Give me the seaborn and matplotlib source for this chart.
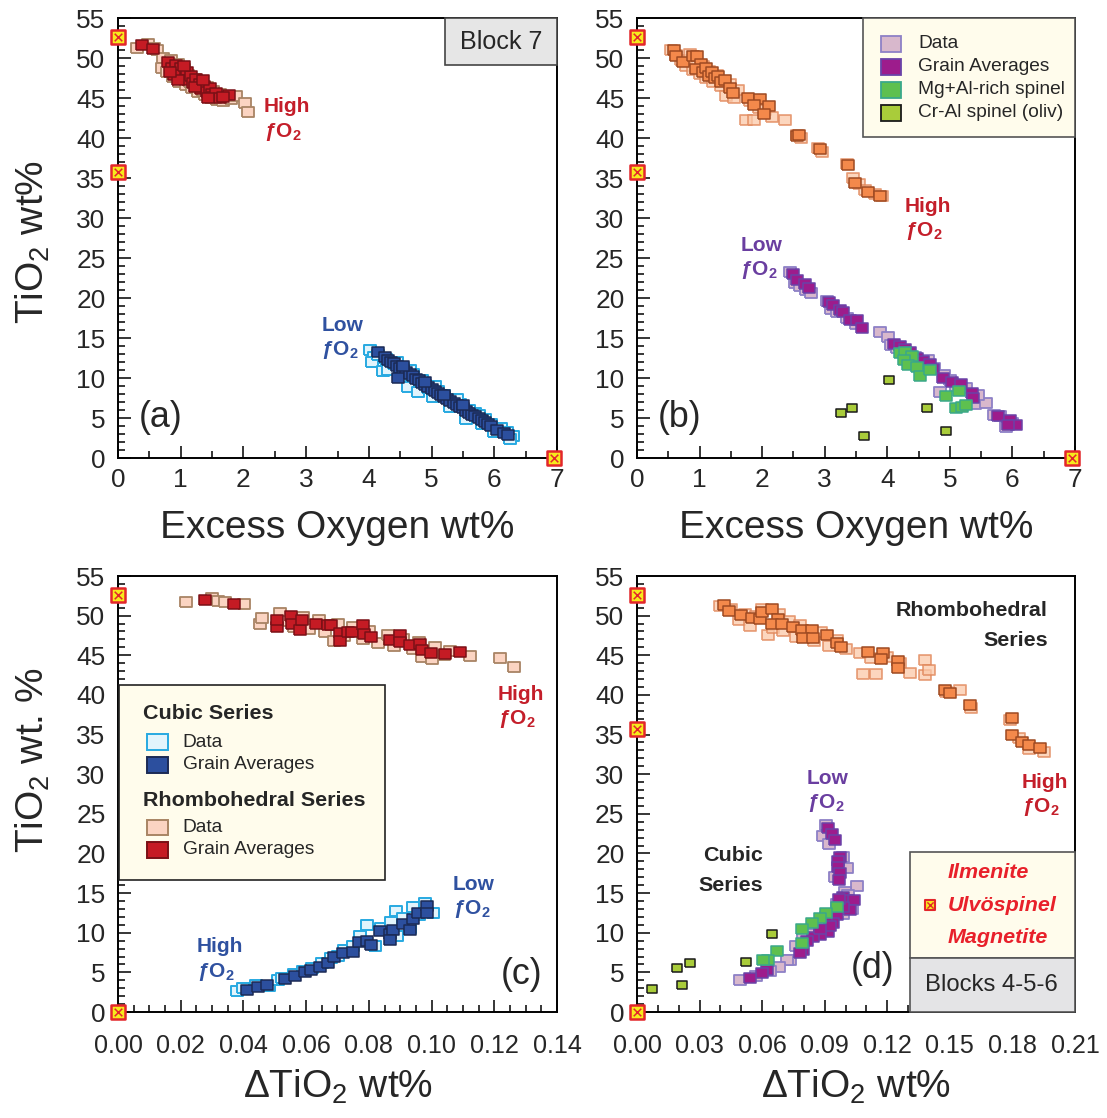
import matplotlib
matplotlib.use("Agg")
import matplotlib.pyplot as plt
import seaborn as sns
import pandas as pd
from matplotlib import font_manager
from matplotlib.patches import Rectangle
from matplotlib.ticker import MultipleLocator, FormatStrFormatter

# ---------------- data ----------------
# (a) Block 7, TiO2 vs excess oxygen
A_RHOMB_DATA = [(0.30, 51.3), (0.48, 51.7), (0.58, 51.3), (0.62, 51.0), (0.72, 50.0), (0.70, 48.8),
                (0.78, 48.3), (0.85, 49.7), (0.88, 47.6), (0.95, 49.2), (0.98, 47.0), (1.05, 48.6),
                (1.08, 46.6), (1.12, 47.9), (1.18, 46.2), (1.22, 47.4), (1.28, 45.8), (1.33, 46.9),
                (1.38, 45.4), (1.42, 46.4), (1.48, 45.0), (1.52, 45.9), (1.58, 44.7), (1.62, 45.5),
                (1.68, 44.6), (1.72, 45.1), (1.80, 44.9), (1.88, 45.2), (2.03, 44.4), (2.08, 43.3),
                (0.92, 48.4), (1.15, 47.0), (1.35, 45.9), (1.55, 45.0), (1.00, 48.0)]
A_RHOMB_AVG = [(0.39, 51.6), (0.56, 51.1), (0.80, 49.5), (0.86, 48.7), (0.92, 49.1), (0.95, 48.2),
               (1.00, 48.7), (1.04, 47.8), (1.10, 48.3), (1.12, 47.3), (1.16, 47.7), (1.20, 46.9),
               (1.25, 47.4), (1.30, 46.7), (1.32, 46.1), (1.37, 46.5), (1.42, 45.8), (1.46, 46.3),
               (1.50, 45.5), (1.52, 45.1), (1.57, 45.6), (1.62, 45.0), (0.90, 47.9), (0.96, 47.3),
               (1.06, 49.0), (1.22, 46.4), (1.77, 45.4), (1.68, 45.1), (1.44, 45.0), (1.36, 47.2),
               (0.83, 48.2)]
A_CUBIC_DATA = [(4.02, 13.5), (4.08, 12.6), (4.05, 12.0), (4.15, 12.9), (4.22, 10.9), (4.30, 11.0),
                (4.28, 12.4), (4.40, 11.8), (4.50, 10.1), (4.55, 11.2), (4.62, 8.9), (4.70, 10.5),
                (4.78, 8.3), (4.85, 9.8), (4.95, 8.8), (5.02, 7.6), (5.10, 8.4), (5.20, 7.9),
                (5.30, 6.4), (5.35, 7.2), (5.45, 6.8), (5.55, 4.9), (5.60, 6.0), (5.70, 5.6),
                (5.80, 4.2), (5.85, 4.9), (5.95, 4.3), (6.00, 3.3), (6.10, 3.8), (6.20, 3.3),
                (6.30, 2.7), (6.25, 2.4), (4.45, 12.0), (4.65, 11.0), (5.05, 9.0), (5.40, 7.4),
                (5.75, 5.4)]
A_CUBIC_AVG = [(4.15, 13.2), (4.25, 12.6), (4.30, 12.3), (4.35, 12.0), (4.40, 11.9), (4.45, 11.5),
               (4.50, 11.3), (4.55, 11.0), (4.60, 10.8), (4.47, 10.0), (4.65, 10.5), (4.70, 10.3),
               (4.75, 9.9), (4.80, 9.7), (4.85, 9.4), (4.90, 9.1), (4.95, 8.9), (5.00, 8.6),
               (5.05, 8.4), (5.10, 8.1), (5.15, 7.9), (5.20, 7.6), (5.25, 7.4), (5.30, 7.1),
               (5.35, 6.9), (5.40, 6.6), (5.45, 6.4), (5.50, 6.2), (5.55, 5.9), (5.60, 5.6),
               (5.65, 5.4), (5.70, 5.2), (5.75, 5.0), (5.80, 4.7), (5.85, 4.5), (5.90, 4.2),
               (5.95, 4.0), (6.05, 3.5), (6.15, 3.1), (6.22, 2.9), (4.55, 11.5), (4.90, 9.5),
               (5.20, 7.9), (5.50, 6.6)]

# (b) Blocks 4-5-6, TiO2 vs excess oxygen
B_RHOMB_DATA = [(0.55, 51.0), (0.62, 50.4), (0.70, 49.8), (0.78, 49.0), (0.85, 50.5), (0.90, 48.5),
                (0.95, 49.6), (1.00, 48.0), (1.05, 49.0), (1.10, 47.5), (1.15, 48.4), (1.22, 47.0),
                (1.28, 47.9), (1.35, 46.5), (1.42, 45.3), (1.48, 46.8), (1.55, 45.0), (1.62, 46.0),
                (1.75, 42.3), (1.87, 42.3), (1.80, 44.6), (1.95, 43.7), (2.05, 43.5), (2.16, 42.6),
                (2.37, 42.2), (2.55, 40.4), (2.62, 40.0), (2.95, 38.3), (2.90, 38.8), (3.35, 36.8),
                (3.45, 35.0), (3.55, 34.2), (3.65, 33.5), (3.80, 33.0), (3.92, 32.8)]
B_RHOMB_AVG = [(0.59, 51.0), (0.63, 50.2), (0.73, 49.5), (0.90, 50.2), (0.96, 50.3), (1.02, 49.3),
               (0.95, 48.6), (1.05, 48.2), (1.10, 48.8), (1.15, 47.8), (1.20, 48.3), (1.25, 47.5),
               (1.30, 47.8), (1.35, 47.0), (1.41, 47.2), (1.49, 46.2), (1.54, 45.6), (1.78, 45.0),
               (1.96, 44.9), (1.87, 44.1), (2.11, 44.0), (2.03, 43.0), (2.55, 40.2), (2.59, 40.4),
               (2.92, 38.6), (3.37, 36.6), (3.48, 34.4), (3.69, 33.2), (3.88, 32.8)]
B_CUBIC_DATA = [(2.45, 23.3), (2.52, 21.9), (2.60, 21.5), (2.70, 21.0), (2.78, 20.6), (3.04, 19.6),
                (3.10, 18.6), (3.20, 18.2), (3.35, 17.5), (3.50, 16.8), (3.88, 15.8), (4.01, 15.1),
                (4.06, 14.1), (4.15, 13.8), (4.30, 13.0), (4.45, 12.6), (4.55, 11.6), (4.65, 12.3),
                (4.75, 11.3), (4.84, 8.3), (4.90, 10.4), (5.00, 9.8), (5.10, 9.0), (5.25, 8.8),
                (5.40, 6.8), (5.58, 6.9), (5.45, 7.9), (5.70, 5.4), (5.80, 5.2), (5.90, 3.9),
                (6.00, 4.4)]
B_CUBIC_AVG = [(2.50, 23.0), (2.55, 22.3), (2.68, 21.7), (2.75, 21.2), (3.07, 19.5), (3.13, 19.1),
               (3.24, 18.5), (3.30, 18.2), (3.41, 17.3), (3.51, 17.2), (3.59, 16.3), (4.10, 14.3),
               (4.20, 14.0), (4.28, 13.6), (4.36, 13.2), (4.47, 12.5), (4.57, 12.1), (4.68, 11.8),
               (4.73, 11.1), (4.89, 10.0), (5.03, 9.5), (5.18, 9.3), (5.35, 8.1), (5.37, 7.5),
               (5.77, 5.3), (5.96, 4.8), (6.06, 4.1), (5.93, 4.1)]
B_MGAL = [(4.20, 13.1), (4.28, 13.3), (4.40, 12.8), (4.27, 12.3), (4.33, 11.6), (4.47, 11.4),
          (4.53, 10.3), (4.68, 11.0), (4.94, 7.7), (5.15, 8.4), (5.10, 6.3), (5.19, 6.4), (5.26, 6.6)]
B_CRAL = [(4.03, 9.8), (3.26, 5.6), (3.43, 6.2), (3.62, 2.8), (4.64, 6.3), (4.94, 3.4)]

# (c) Block 7, TiO2 vs delta TiO2
C_RHOMB_DATA = [(0.0217, 51.7), (0.0299, 52.2), (0.0320, 51.9), (0.0341, 51.7), (0.0402, 51.5),
                (0.0453, 49.0), (0.0460, 49.7), (0.0517, 50.3), (0.0540, 49.3), (0.0560, 48.6),
                (0.0590, 49.8), (0.0610, 48.3), (0.0640, 49.4), (0.0660, 47.9), (0.0700, 48.9),
                (0.0720, 47.4), (0.0750, 48.6), (0.0780, 47.0), (0.0800, 48.0), (0.0830, 46.6),
                (0.0860, 47.6), (0.0880, 46.2), (0.0910, 47.1), (0.0940, 45.8), (0.0960, 46.7),
                (0.0990, 45.3), (0.1010, 46.1), (0.1040, 45.0), (0.1060, 45.6), (0.1122, 44.9),
                (0.1218, 44.7), (0.1264, 43.5), (0.0970, 44.8), (0.1000, 44.5), (0.0690, 46.8)]
C_RHOMB_AVG = [(0.0277, 52.0), (0.0371, 51.5), (0.0506, 48.6), (0.0508, 49.4), (0.0552, 49.9),
               (0.0556, 49.0), (0.0580, 48.2), (0.0586, 49.5), (0.0630, 48.9), (0.0671, 48.8),
               (0.0679, 48.8), (0.0708, 47.8), (0.0708, 46.8), (0.0734, 47.9), (0.0746, 47.9),
               (0.0782, 48.8), (0.0783, 47.7), (0.0807, 47.3), (0.0867, 46.9), (0.0899, 47.6),
               (0.0899, 46.7), (0.0931, 46.3), (0.0963, 46.4), (0.0968, 45.7), (0.0999, 45.3),
               (0.1043, 45.1), (0.1091, 45.4)]
C_CUBIC_DATA = [(0.0380, 2.6), (0.0400, 3.0), (0.0440, 3.4), (0.0480, 3.3), (0.0510, 4.0),
                (0.0524, 4.3), (0.0560, 4.8), (0.0590, 5.2), (0.0620, 5.6), (0.0650, 6.2),
                (0.0680, 6.8), (0.0700, 7.1), (0.0720, 7.8), (0.0750, 8.3), (0.0772, 9.6),
                (0.0793, 11.0), (0.0818, 8.3), (0.0840, 10.6), (0.0870, 11.4), (0.0888, 12.8),
                (0.0910, 11.9), (0.0941, 13.3), (0.0960, 12.2), (0.0979, 13.7), (0.1003, 12.5),
                (0.0930, 10.6), (0.0890, 9.6)]
C_CUBIC_AVG = [(0.0410, 2.8), (0.0447, 3.1), (0.0474, 3.4), (0.0533, 4.2), (0.0564, 4.5),
               (0.0596, 5.0), (0.0617, 5.3), (0.0644, 5.7), (0.0671, 6.2), (0.0689, 6.9),
               (0.0718, 7.4), (0.0750, 7.6), (0.0768, 8.8), (0.0793, 8.9), (0.0806, 8.5),
               (0.0835, 10.2), (0.0867, 9.8), (0.0878, 10.3), (0.0910, 11.1), (0.0931, 10.4),
               (0.0941, 11.7), (0.0958, 12.5), (0.0984, 13.4), (0.0986, 12.5), (0.0868, 9.1)]

# (d) Blocks 4-5-6, TiO2 vs delta TiO2
D_RHOMB_DATA = [(0.0398, 51.2), (0.0450, 50.8), (0.0487, 49.4), (0.0520, 50.2), (0.0543, 48.7),
                (0.0570, 49.9), (0.0600, 50.9), (0.0629, 47.5), (0.0650, 48.5), (0.0680, 50.2),
                (0.0700, 48.0), (0.0730, 49.3), (0.0760, 47.3), (0.0780, 48.8), (0.0810, 47.8),
                (0.0850, 46.8), (0.0880, 47.9), (0.0920, 46.2), (0.0960, 46.9), (0.1000, 45.8),
                (0.1070, 45.3), (0.1084, 42.6), (0.1148, 42.6), (0.1120, 44.6), (0.1200, 44.8),
                (0.1260, 44.0), (0.1308, 42.8), (0.1380, 42.5), (0.1380, 44.4), (0.1400, 43.1),
                (0.1480, 40.4), (0.1550, 40.6), (0.1600, 38.3), (0.1790, 36.8), (0.1830, 34.6),
                (0.1880, 33.2), (0.1950, 32.8)]
D_RHOMB_AVG = [(0.0417, 51.4), (0.0441, 50.6), (0.0497, 50.1), (0.0550, 49.7), (0.0589, 49.6),
               (0.0597, 50.5), (0.0645, 50.8), (0.0677, 49.6), (0.0649, 49.0), (0.0693, 49.0),
               (0.0749, 48.6), (0.0789, 48.2), (0.0837, 48.2), (0.0797, 47.2), (0.0845, 47.2),
               (0.0909, 47.6), (0.0957, 46.6), (0.0976, 46.0), (0.1107, 45.4), (0.1180, 45.3),
               (0.1170, 44.5), (0.1252, 44.3), (0.1252, 43.4), (0.1476, 40.6), (0.1500, 40.2),
               (0.1596, 38.7), (0.1797, 37.1), (0.1800, 35.0), (0.1845, 34.0), (0.1880, 33.7),
               (0.1931, 33.3)]
D_CUBIC_DATA = [(0.0906, 23.6), (0.0893, 22.2), (0.0920, 21.2), (0.0989, 19.5), (0.1005, 18.2),
                (0.0950, 17.0), (0.1053, 15.9), (0.0997, 15.2), (0.1030, 13.0), (0.0990, 12.4),
                (0.0930, 11.4), (0.0880, 10.2), (0.0840, 9.9), (0.0797, 9.5), (0.0760, 8.3),
                (0.0733, 6.6), (0.0717, 6.6), (0.0680, 5.7), (0.0640, 5.2), (0.0570, 4.5),
                (0.0494, 4.0), (0.1010, 14.8), (0.0960, 13.6)]
D_CUBIC_AVG = [(0.0917, 23.2), (0.0933, 22.5), (0.0949, 21.7), (0.0973, 19.6), (0.0965, 19.0),
               (0.0965, 18.3), (0.0973, 17.5), (0.0968, 16.6), (0.0988, 14.5), (0.1013, 14.1),
               (0.1040, 14.1), (0.1020, 12.9), (0.0988, 13.3), (0.0957, 12.2), (0.0940, 11.2),
               (0.0917, 10.1), (0.0877, 9.7), (0.0845, 9.5), (0.0813, 8.9), (0.0797, 7.8),
               (0.0781, 7.5), (0.0621, 5.3), (0.0597, 4.9), (0.0541, 4.3), (0.0908, 12.0),
               (0.0926, 10.9), (0.0877, 10.5), (0.0970, 14.2)]
D_MGAL = [(0.0957, 13.3), (0.0906, 12.5), (0.0877, 11.8), (0.0837, 11.2), (0.0789, 10.5),
          (0.0789, 8.7), (0.0669, 7.7), (0.0629, 6.6), (0.0605, 6.5)]
D_CRAL = [(0.0645, 9.8), (0.0525, 6.3), (0.0190, 5.6), (0.0254, 6.2), (0.0072, 2.9), (0.0215, 3.4)]

# end-member compositions (ilmenite, ulvospinel, magnetite)
END_EXO = [(0.0, 52.65), (0.0, 35.7), (6.95, 0.0)]
END_DTIO2_C = [(0.0, 52.65), (0.0, 0.0)]
END_DTIO2_D = [(0.0, 52.65), (0.0, 35.7), (0.0, 0.0)]

LEGEND_B = ["Data", "Grain Averages", "Mg+Al-rich spinel", "Cr-Al spinel (oliv)"]
LEGEND_C = ["Cubic Series", "Data", "Grain Averages", "Rhombohedral Series", "Data", "Grain Averages"]
END_NAMES = ["Ilmenite", "Ulvöspinel", "Magnetite"]

# ---------------- colours ----------------
RH_PALE = ("#fbd4c2", "#a88464")
RH_AVG = ("#c51b24", "#7a1016")
CU_PALE = ("#e2f4fc", "#27a9e1")
CU_AVG = ("#2c4f9e", "#1b2a55")
OR_PALE = ("#fbc9a9", "#e08659")
OR_AVG = ("#f4894b", "#9e4a22")
MV_PALE = ("#d8b8cc", "#8d80c6")
PU_AVG = ("#9d1c8c", "#6a43a8")
GREEN = ("#5ec04f", "#3aa88a")
OLIVE = ("#a9cc3a", "#1a1a1a")
RED_T, BLUE_T, PURP_T = "#c41e2a", "#2f51a0", "#6a3ea0"
CREAM = "#fffcec"

sns.set_style("ticks")
plt.rcParams["font.family"] = ["Liberation Sans", "DejaVu Sans"]
plt.rcParams["mathtext.fontset"] = "custom"
plt.rcParams["mathtext.rm"] = "Liberation Sans"
plt.rcParams["mathtext.it"] = "Liberation Sans:italic"
plt.rcParams["mathtext.bf"] = "Liberation Sans:bold"

# the original uses a condensed face; fall back to smaller regular text if none is installed
installed = {f.name for f in font_manager.fontManager.ttflist}
NARROW = ["Liberation Sans"]
NS = 0.86
for cand in ["Liberation Sans Narrow", "DejaVu Sans Condensed"]:
    if cand in installed:
        NARROW = [cand, "Liberation Sans"]
        NS = 1.0
        break

RECT = [(-1, -0.78), (1, -0.78), (1, 0.78), (-1, 0.78), (-1, -0.78)]


def squares(ax, pts, colors, s=75, lw=1.1, alpha=1.0, z=3):
    df = pd.DataFrame(pts, columns=["x", "y"])
    sns.scatterplot(data=df, x="x", y="y", ax=ax, marker=RECT, s=s, color=colors[0],
                    edgecolor=colors[1], linewidth=lw, alpha=alpha, zorder=z, legend=False)


def endmembers(ax, pts):
    df = pd.DataFrame(pts, columns=["x", "y"])
    sns.scatterplot(data=df, x="x", y="y", ax=ax, marker="s", s=95, color="#f7ea1c",
                    edgecolor="#e3262b", linewidth=1.8, zorder=10, clip_on=False, legend=False)
    sns.scatterplot(data=df, x="x", y="y", ax=ax, marker="x", s=30, color="#e3262b",
                    linewidth=1.1, zorder=11, clip_on=False, legend=False)


def setup(ax, xmax, xmaj, xmin, fmt, xpad, xsize):
    ax.set_xlim(0, xmax)
    ax.set_ylim(0, 55)
    ax.xaxis.set_major_locator(MultipleLocator(xmaj))
    ax.xaxis.set_minor_locator(MultipleLocator(xmin))
    ax.xaxis.set_major_formatter(FormatStrFormatter(fmt))
    ax.yaxis.set_major_locator(MultipleLocator(5))
    ax.yaxis.set_minor_locator(MultipleLocator(1))
    ax.tick_params(which="both", direction="in", top=False, right=False, width=1.3,
                   labelfontfamily=NARROW)
    ax.tick_params(axis="y", labelsize=22 * NS, pad=9)
    ax.tick_params(axis="x", labelsize=xsize * NS, pad=xpad)
    ax.tick_params(which="major", length=9)
    ax.tick_params(which="minor", length=5)
    for sp in ax.spines.values():
        sp.set_linewidth(1.4)
        sp.set_color("black")
    ax.set_xlabel("")
    ax.set_ylabel("")


def box(ax, x0, y0, x1, y1, face, edge="#555555", lw=1.2, z=6):
    ax.add_patch(Rectangle((x0, y0), x1 - x0, y1 - y0, transform=ax.transAxes,
                           facecolor=face, edgecolor=edge, linewidth=lw, zorder=z, clip_on=False))


def fo2(ax, x, y, word, color, dy=3.1):
    ax.text(x, y, word, color=color, fontsize=15, fontweight="bold", ha="left", va="center", zorder=8)
    ax.text(x, y - dy, r"ƒO$_\mathbf{2}$", color=color, fontsize=15, fontweight="bold",
            ha="left", va="center", zorder=8)


fig = plt.figure(figsize=(11.07, 11.18), dpi=100)
W, H = 1107, 1118


def axes_px(left, top, right, bottom):
    return fig.add_axes([left / W, 1 - bottom / H, (right - left) / W, (bottom - top) / H])


ax_a = axes_px(118, 18, 557, 458)
ax_b = axes_px(637, 18, 1075, 458)
ax_c = axes_px(118, 576, 557, 1012)
ax_d = axes_px(637, 576, 1075, 1012)

# ---- (a)
squares(ax_a, A_RHOMB_DATA, RH_PALE, s=80, lw=1.3)
squares(ax_a, A_RHOMB_AVG, RH_AVG, z=4)
squares(ax_a, A_CUBIC_DATA, CU_PALE, s=80, lw=1.4)
squares(ax_a, A_CUBIC_AVG, CU_AVG, z=4)
endmembers(ax_a, END_EXO)
setup(ax_a, 7, 1, 0.5, "%d", 7, 22)
ax_a.set_xlabel("Excess Oxygen wt%", fontsize=28)
ax_a.set_ylabel("TiO$_2$ wt%", fontsize=28)
ax_a.xaxis.set_label_coords(0.5, -0.118)
ax_a.yaxis.set_label_coords(-0.15, 0.492)
fo2(ax_a, 2.33, 43.9, "High", RED_T)
fo2(ax_a, 3.24, 16.6, "Low", BLUE_T)
box(ax_a, 0.745, 0.893, 1.0, 1.0, "#e6e6e6", edge="#444444")
ax_a.text(0.872, 0.946, "Block 7", transform=ax_a.transAxes, fontsize=21 * NS, family=NARROW,
          ha="center", va="center", zorder=7)
ax_a.text(0.096, 0.091, "(a)", transform=ax_a.transAxes, fontsize=30 * NS, family=NARROW,
          ha="center", va="center")

# ---- (b)
squares(ax_b, B_RHOMB_DATA, OR_PALE, s=80, lw=1.3, alpha=0.75)
squares(ax_b, B_RHOMB_AVG, OR_AVG, z=4)
squares(ax_b, B_CUBIC_DATA, MV_PALE, s=80, lw=1.3)
squares(ax_b, B_CUBIC_AVG, PU_AVG, z=4)
squares(ax_b, B_MGAL, GREEN, z=5)
squares(ax_b, B_CRAL, OLIVE, s=45, z=5)
endmembers(ax_b, END_EXO)
setup(ax_b, 7, 1, 0.5, "%d", 7, 22)
ax_b.set_xlabel("Excess Oxygen wt%", fontsize=28)
ax_b.xaxis.set_label_coords(0.5, -0.118)
fo2(ax_b, 4.28, 31.5, "High", RED_T)
fo2(ax_b, 1.65, 26.6, "Low", PURP_T)
box(ax_b, 0.515, 0.729, 1.0, 1.0, CREAM)
for i, (lab, col) in enumerate(zip(LEGEND_B, [MV_PALE, PU_AVG, GREEN, OLIVE])):
    y = 0.941 - i * 0.0523
    ax_b.add_patch(Rectangle((0.556, y - 0.018), 0.047, 0.036, transform=ax_b.transAxes,
                             facecolor=col[0], edgecolor=col[1], linewidth=1.3, zorder=7))
    ax_b.text(0.642, y, lab, transform=ax_b.transAxes, fontsize=16 * NS, family=NARROW,
              ha="left", va="center", zorder=7)
ax_b.text(0.098, 0.091, "(b)", transform=ax_b.transAxes, fontsize=30 * NS, family=NARROW,
          ha="center", va="center")

# ---- (c)
squares(ax_c, C_RHOMB_DATA, RH_PALE, s=80, lw=1.3)
squares(ax_c, C_RHOMB_AVG, RH_AVG, z=4)
squares(ax_c, C_CUBIC_DATA, CU_PALE, s=80, lw=1.4)
squares(ax_c, C_CUBIC_AVG, CU_AVG, z=4)
endmembers(ax_c, END_DTIO2_C)
setup(ax_c, 0.14, 0.02, 0.005, "%.2f", 16, 21)
ax_c.set_xlabel("ΔTiO$_2$ wt%", fontsize=28)
ax_c.set_ylabel("TiO$_2$ wt. %", fontsize=28)
ax_c.xaxis.set_label_coords(0.5, -0.128)
ax_c.yaxis.set_label_coords(-0.15, 0.578)
fo2(ax_c, 0.1212, 40.1, "High", RED_T)
fo2(ax_c, 0.1068, 16.1, "Low", BLUE_T)
fo2(ax_c, 0.0252, 8.2, "High", BLUE_T)
box(ax_c, 0.003, 0.303, 0.608, 0.75, CREAM, edge="#222222")
legend_c_y = [0.685, 0.619, 0.567, 0.486, 0.423, 0.372]
legend_c_col = [None, CU_PALE, CU_AVG, None, RH_PALE, RH_AVG]
for lab, y, col in zip(LEGEND_C, legend_c_y, legend_c_col):
    if col is None:
        ax_c.text(0.058, y, lab, transform=ax_c.transAxes, fontsize=18 * NS, family=NARROW,
                  fontweight="bold", ha="left", va="center", zorder=7)
    else:
        ax_c.add_patch(Rectangle((0.065, y - 0.018), 0.05, 0.036, transform=ax_c.transAxes,
                                 facecolor=col[0], edgecolor=col[1], linewidth=1.4, zorder=7))
        ax_c.text(0.147, y, lab, transform=ax_c.transAxes, fontsize=16 * NS, family=NARROW,
                  ha="left", va="center", zorder=7)
ax_c.text(0.92, 0.085, "(c)", transform=ax_c.transAxes, fontsize=30 * NS, family=NARROW,
          ha="center", va="center")

# ---- (d)
squares(ax_d, D_RHOMB_DATA, OR_PALE, s=80, lw=1.3, alpha=0.75)
squares(ax_d, D_RHOMB_AVG, OR_AVG, z=4)
squares(ax_d, D_CUBIC_DATA, MV_PALE, s=80, lw=1.3)
squares(ax_d, D_CUBIC_AVG, PU_AVG, z=4)
squares(ax_d, D_MGAL, GREEN, z=5)
squares(ax_d, D_CRAL, OLIVE, s=45, z=5)
endmembers(ax_d, END_DTIO2_D)
setup(ax_d, 0.21, 0.03, 0.01, "%.2f", 16, 21)
ax_d.set_xlabel("ΔTiO$_2$ wt%", fontsize=28)
ax_d.xaxis.set_label_coords(0.5, -0.128)
fo2(ax_d, 0.1845, 29.0, "High", RED_T)
fo2(ax_d, 0.0815, 29.5, "Low", PURP_T)
for word, y in [("Rhombohedral", 50.7), ("Series", 46.9)]:
    ax_d.text(0.197, y, word, fontsize=18 * NS, family=NARROW, fontweight="bold",
              ha="right", va="center")
for word, y in [("Cubic", 19.7), ("Series", 15.9)]:
    ax_d.text(0.0604, y, word, fontsize=18 * NS, family=NARROW, fontweight="bold",
              ha="right", va="center")
box(ax_d, 0.623, 0.124, 1.0, 0.367, CREAM)
box(ax_d, 0.623, 0.0, 1.0, 0.124, "#e4e4e6")
ax_d.text(0.81, 0.062, "Blocks 4-5-6", transform=ax_d.transAxes, fontsize=20 * NS, family=NARROW,
          ha="center", va="center", zorder=7)
for name, y in zip(END_NAMES, [0.319, 0.245, 0.172]):
    ax_d.text(0.71, y, name, transform=ax_d.transAxes, fontsize=18 * NS, family=NARROW,
              fontweight="bold", fontstyle="italic", color="#e8202a", ha="left", va="center",
              zorder=7)
ax_d.scatter([0.669], [0.245], transform=ax_d.transAxes, marker="s", s=60, color="#f7ea1c",
             edgecolor="#e3262b", linewidth=1.5, zorder=8)
ax_d.scatter([0.669], [0.245], transform=ax_d.transAxes, marker="x", s=20, color="#e3262b",
             linewidth=1.0, zorder=9)
ax_d.text(0.537, 0.10, "(d)", transform=ax_d.transAxes, fontsize=30 * NS, family=NARROW,
          ha="center", va="center", zorder=7)

fig.savefig("out.png", dpi=100)
